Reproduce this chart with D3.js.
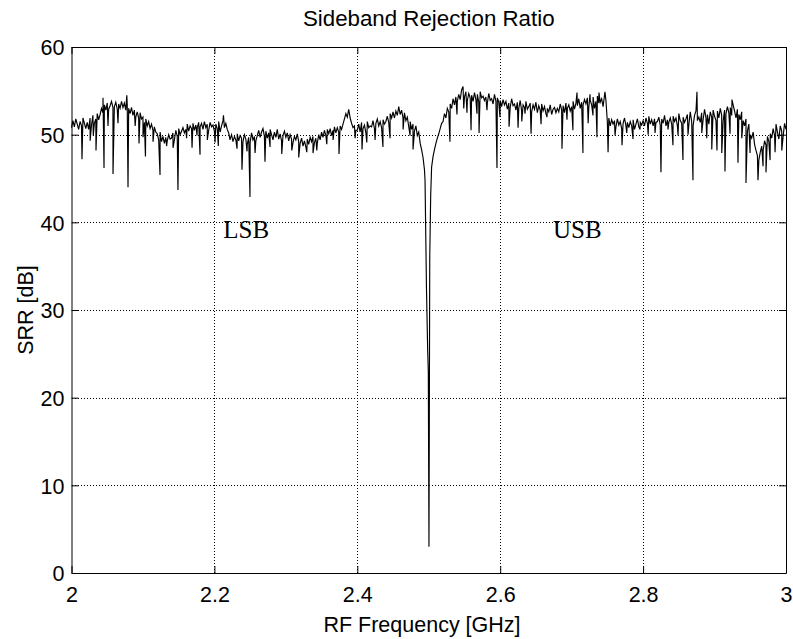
<!DOCTYPE html>
<html>
<head>
<meta charset="utf-8">
<script src="https://cdn.jsdelivr.net/npm/d3@7"></script>
<style>
  html, body { margin: 0; padding: 0; background: #fff; }
  svg { display: block; }
  text { fill: #000; }
</style>
</head>
<body>
<svg id="chart" width="793" height="639"></svg>
<script>
// Sideband rejection ratio measured across the RF band (GHz, dB)
const freqStart = 2.0;
const freqStep = 0.002;

// SRR samples on the regular frequency grid; null where the notch is given separately
const srrValues = [
  50.8, 51.6, 50.9, 51.8, 51.2, 50.6, 51.5, 51.0, 51.9, 51.3,
  50.7, 51.4, 50.6, 51.9, 51.1, 52.2, 51.3, 51.8, 52.4, 51.7,
  52.3, 53.0, 52.5, 53.4, 52.8, 53.6, 52.9, 53.3, 53.8, 53.1,
  53.2, 53.7, 52.9, 53.5, 53.0, 53.8, 53.1, 53.6, 52.8, 53.4,
  53.0, 52.4, 53.1, 52.2, 52.8, 52.0, 52.6, 51.9, 52.5, 51.8,
  52.0, 51.4, 51.8, 51.0, 51.5, 50.7, 51.2, 50.5, 50.9, 50.3,
  50.1, 49.4, 50.3, 49.2, 49.8, 49.0, 49.7, 49.3, 50.0, 49.5,
  49.6, 50.2, 49.4, 50.5, 49.8, 50.7, 50.0, 50.4, 50.8, 50.2,
  50.6, 51.2, 50.4, 51.0, 50.7, 51.3, 50.5, 51.1, 50.8, 51.4,
  50.9, 51.3, 50.6, 51.5, 50.8, 51.2, 50.5, 51.4, 50.9, 51.1,
  50.4, 51.2, 50.7, 51.5, 50.3, 51.0, 51.6, 50.8, 51.3, 50.6,
  50.2, 49.5, 50.0, 49.2, 49.8, 49.4, 50.1, 49.3, 49.9, 49.6,
  49.2, 50.0, 49.5, 48.9, 49.7, 49.1, 50.2, 49.4, 49.8, 49.3,
  49.9, 50.5, 49.7, 50.3, 50.7, 49.8, 50.4, 49.6, 50.2, 50.6,
  50.0, 49.4, 50.3, 49.7, 50.6, 49.5, 50.1, 49.3, 49.9, 50.4,
  49.7, 50.2, 49.3, 50.0, 49.5, 49.1, 49.8, 49.4, 50.1, 49.2,
  49.0, 49.6, 48.7, 49.3, 48.6, 49.5, 48.9, 49.7, 49.2, 49.8,
  49.1, 49.6, 49.0, 50.0, 49.4, 50.3, 49.7, 50.5, 49.9, 50.6,
  50.1, 50.7, 49.9, 50.5, 50.9, 50.2, 50.8, 50.3, 51.0, 50.6,
  51.2, 51.8, 52.4, 52.0, 52.9, 51.9, 51.3, 50.8, 51.0, 50.5,
  50.5, 51.2, 50.3, 51.4, 50.7, 51.1, 50.2, 51.5, 50.8, 51.0,
  50.9, 51.6, 50.7, 51.3, 51.8, 51.0, 51.5, 50.8, 51.7, 51.2,
  51.5, 52.1, 51.4, 52.4, 51.9, 52.6, 51.9, 52.7, 52.2, 53.2,
  52.3, 52.8, 51.9, 52.5, 51.6, 52.0, 50.9, 51.5, 50.6, 51.2,
  50.4, 51.0, 49.9, 50.3, 49.0, 48.3, 47.4, 46.0, null, null,
  null, null, 46.3, 47.5, 48.3, 49.0, 49.6, 50.1, 50.7, 51.3,
  51.5, 52.4, 51.9, 53.0, 52.6, 53.5, 53.0, 54.1, 53.4, 54.3,
  53.8, 54.6, 54.0, 55.1, 55.5, 54.3, 54.9, 53.9, 54.7, 54.2,
  54.5, 53.8, 54.8, 54.0, 54.6, 53.7, 54.9, 54.2, 54.4, 53.9,
  54.3, 53.6, 54.7, 53.9, 54.1, 53.5, 54.6, 53.8, 54.2, 53.7,
  53.9, 53.2, 54.0, 53.4, 53.8, 52.9, 53.6, 53.1, 54.1, 53.3,
  53.5, 52.8, 53.7, 53.0, 53.9, 52.7, 53.4, 53.1, 53.8, 52.9,
  53.2, 53.6, 52.6, 53.4, 52.9, 53.7, 52.5, 53.3, 52.8, 53.5,
  52.7, 53.2, 52.4, 53.0, 52.6, 53.4, 52.3, 52.9, 53.1, 52.5,
  53.0, 52.6, 53.5, 52.8, 53.3, 52.5, 53.6, 53.0, 53.4, 52.7,
  53.2, 53.8, 52.9, 53.6, 53.3, 54.1, 53.0, 53.7, 53.4, 54.0,
  53.5, 54.2, 53.1, 53.9, 53.4, 54.3, 53.0, 53.8, 54.4, 53.6,
  53.7, 54.1, 53.2, 54.5, 53.9, 51.4, 51.9, 51.0, 51.7, 51.2,
  51.6, 50.9, 51.8, 51.1, 51.5, 50.7, 51.3, 51.9, 51.0, 51.4,
  50.8, 51.5, 51.0, 51.7, 50.6, 51.2, 51.8, 50.9, 51.4, 51.1,
  51.6, 51.0, 51.9, 51.3, 52.1, 51.2, 51.7, 51.0, 51.8, 51.4,
  51.5, 52.0, 51.1, 51.8, 51.3, 52.2, 51.0, 51.7, 51.4, 51.9,
  51.2, 52.1, 51.5, 51.9, 51.0, 52.4, 51.6, 51.3, 52.0, 51.4,
  51.8, 52.3, 51.1, 52.6, 51.5, 51.0, 52.2, 52.7, 51.6, 52.0,
  51.4, 52.5, 51.7, 52.9, 51.9, 52.3, 51.2, 52.6, 52.0, 52.8,
  52.1, 51.6, 52.7, 51.9, 53.0, 52.2, 51.5, 52.8, 52.4, 53.2,
  52.5, 53.1, 52.2, 53.4, 52.7, 51.9, 52.9, 52.3, 51.7, 52.6,
  51.6, 51.0, 51.8, 50.4, 51.2, 50.0, 49.6, 50.3, 48.9, 48.2,
  47.6, 47.1, 48.0, 48.7, 48.2, 49.3, 48.8, 49.8, 49.2, 50.1,
  49.6, 50.7, 49.9, 51.2, 50.3, 49.5, 51.0, 50.4, 49.8, 51.3,
  50.6
];

// Narrow single-sample excursions between grid points [GHz, dB]
const spikes = [
  [2.0147, 47.2], [2.0343, 48.2], [2.0441, 54.2], [2.0455, 46.2], [2.0581, 45.5],
  [2.0774, 54.5], [2.0791, 44.0], [2.0945, 49.0], [2.1035, 47.5], [2.1239, 45.4],
  [2.1490, 43.7], [2.1687, 48.5], [2.1799, 47.7], [2.2055, 48.7], [2.2127, 52.2],
  [2.2386, 46.0], [2.2498, 42.9], [2.2708, 46.9], [2.3180, 47.4], [2.3380, 47.9],
  [2.3744, 47.8], [2.4066, 48.3], [2.4359, 48.6], [2.4458, 49.6], [2.4780, 48.3],
  [2.5297, 49.2], [2.5490, 53.0], [2.5592, 50.5], [2.5704, 50.2], [2.5955, 46.2],
  [2.6124, 50.9], [2.6250, 50.8], [2.6302, 51.5], [2.6432, 50.1], [2.6572, 51.2],
  [2.6865, 48.4], [2.7018, 50.5], [2.7075, 54.8], [2.7158, 47.9], [2.7257, 54.6],
  [2.7354, 49.7], [2.7382, 54.8], [2.7466, 54.9], [2.7510, 48.0], [2.7705, 48.8],
  [2.7859, 49.5], [2.8250, 45.7], [2.8418, 48.8], [2.8558, 47.1], [2.8698, 44.8],
  [2.8754, 54.9], [2.9034, 48.2], [2.9146, 45.8], [2.9244, 54.0], [2.9328, 46.8],
  [2.9440, 44.5], [2.9608, 44.8], [2.9720, 45.7]
];

// Smaller dips that thicken the noisy trace [GHz, dB]
const minorDips = [
  [2.0261, 49.3], [2.0305, 49.9], [2.0511, 51.0], [2.0651, 51.3], [2.0891, 51.0],
  [2.1001, 49.7], [2.1141, 49.2], [2.1331, 48.7], [2.1421, 48.5], [2.1611, 49.6],
  [2.1757, 49.9], [2.1901, 49.4], [2.2009, 49.1], [2.2219, 49.4], [2.2317, 48.4],
  [2.2457, 48.1], [2.2569, 47.9], [2.2779, 48.6], [2.2943, 47.8], [2.3083, 48.2],
  [2.3293, 48.0], [2.3433, 48.2], [2.3573, 48.9], [2.3661, 49.4], [2.3969, 49.6],
  [2.4133, 49.1], [2.4249, 49.4], [2.4641, 50.6], [2.4739, 49.9],
  [2.5395, 52.3], [2.5535, 52.5], [2.5675, 52.4], [2.5815, 52.8], [2.5997, 52.0],
  [2.6347, 52.4], [2.6655, 52.0], [2.6935, 51.7], [2.7231, 51.3], [2.7299, 52.2],
  [2.7607, 49.9], [2.7771, 50.2], [2.7957, 50.6], [2.8071, 50.0], [2.8167, 50.2],
  [2.8349, 50.6], [2.8489, 49.9], [2.8629, 50.0], [2.8821, 50.2], [2.8891, 49.6],
  [2.8961, 48.3], [2.9101, 47.9], [2.9217, 50.1], [2.9381, 49.6], [2.9497, 47.9],
  [2.9679, 46.4], [2.9777, 47.1], [2.9847, 48.0], [2.9941, 48.2]
];

// The image-rejection notch at the LO frequency [GHz, dB]
const notch = [
  [2.4948, 44.8], [2.4968, 32.6], [2.4985, 25.4], [2.4994, 22.9],
  [2.5003, 3.0], [2.5014, 36.0], [2.5027, 43.0]
];

const xTicks = [2, 2.2, 2.4, 2.6, 2.8, 3];
const yTicks = [0, 10, 20, 30, 40, 50, 60];
const bandLabels = [
  { text: "LSB", f: 2.2125, v: 38.2 },
  { text: "USB", f: 2.6740, v: 38.2 }
];

const titleText = "Sideband Rejection Ratio";
const xLabel = "RF Frequency [GHz]";
const yLabel = "SRR [dB]";

// ---- layout ----
const svg = d3.select("#chart");
const plotL = 71.5, plotR = 786, plotT = 47, plotB = 573;
const x = d3.scaleLinear().domain([2, 3]).range([plotL, plotR]);
const y = d3.scaleLinear().domain([0, 60]).range([plotB, plotT]);
const sans = "'Liberation Sans', Arial, Helvetica, sans-serif";
const fs = 21.5;

// merged trace sorted by frequency
const trace = srrValues
  .map((v, i) => [freqStart + i * freqStep, v])
  .filter(d => d[1] !== null)
  .concat(spikes, minorDips, notch)
  .sort((a, b) => a[0] - b[0]);

// dotted grid
const grid = svg.append("g").attr("class", "grid")
  .attr("stroke", "#000").attr("stroke-width", 1)
  .attr("stroke-dasharray", "1,2").attr("shape-rendering", "crispEdges");
grid.selectAll("line.gx").data(xTicks.slice(1, -1)).join("line")
  .attr("class", "gx")
  .attr("x1", d => Math.round(x(d)) + 0.5).attr("x2", d => Math.round(x(d)) + 0.5)
  .attr("y1", plotT).attr("y2", plotB);
grid.selectAll("line.gy").data(yTicks.slice(1, -1)).join("line")
  .attr("class", "gy")
  .attr("x1", plotL).attr("x2", plotR)
  .attr("y1", d => Math.round(y(d)) + 0.5).attr("y2", d => Math.round(y(d)) + 0.5);

// data trace
svg.append("path")
  .datum(trace)
  .attr("fill", "none")
  .attr("stroke", "#000")
  .attr("stroke-width", 1.15)
  .attr("stroke-linejoin", "miter")
  .attr("d", d3.line().x(d => x(d[0])).y(d => y(d[1])));

// axes with inward ticks on all four sides
function styleAxis(g) {
  g.select(".domain").attr("stroke", "#000");
  g.selectAll(".tick line").attr("stroke", "#000");
  g.selectAll("text").attr("font-family", sans).attr("font-size", fs).attr("fill", "#000");
}
const fmt = d => d3.format("~g")(d);

svg.append("g").attr("transform", `translate(0,${plotB})`)
  .call(d3.axisBottom(x).tickValues(xTicks).tickFormat(fmt).tickSizeInner(-7).tickSizeOuter(0))
  .call(styleAxis)
  .call(g => g.selectAll("text").attr("dy", 0).attr("y", 29));
svg.append("g").attr("transform", `translate(0,${plotT})`)
  .call(d3.axisTop(x).tickValues(xTicks).tickFormat("").tickSizeInner(-7).tickSizeOuter(0))
  .call(styleAxis);
svg.append("g").attr("transform", `translate(${plotL},0)`)
  .call(d3.axisLeft(y).tickValues(yTicks).tickFormat(fmt).tickSizeInner(-7).tickSizeOuter(0))
  .call(styleAxis)
  .call(g => g.selectAll("text").attr("x", -7).attr("dy", "0.36em"));
svg.append("g").attr("transform", `translate(${plotR},0)`)
  .call(d3.axisRight(y).tickValues(yTicks).tickFormat("").tickSizeInner(-7).tickSizeOuter(0))
  .call(styleAxis);

// titles
svg.append("text")
  .attr("x", (plotL + plotR) / 2).attr("y", 26)
  .attr("text-anchor", "middle")
  .attr("font-family", sans).attr("font-size", 22.3)
  .text(titleText);
svg.append("text")
  .attr("x", 422).attr("y", 632)
  .attr("text-anchor", "middle")
  .attr("font-family", sans).attr("font-size", fs)
  .text(xLabel);
svg.append("text")
  .attr("transform", `translate(33,${(plotT + plotB) / 2}) rotate(-90)`)
  .attr("text-anchor", "middle")
  .attr("font-family", sans).attr("font-size", fs)
  .text(yLabel);

// sideband annotations
svg.selectAll("text.band").data(bandLabels).join("text")
  .attr("class", "band")
  .attr("x", d => x(d.f)).attr("y", d => y(d.v))
  .attr("font-family", "'Liberation Serif', 'Times New Roman', serif")
  .attr("font-size", 25)
  .text(d => d.text);
</script>
</body>
</html>
